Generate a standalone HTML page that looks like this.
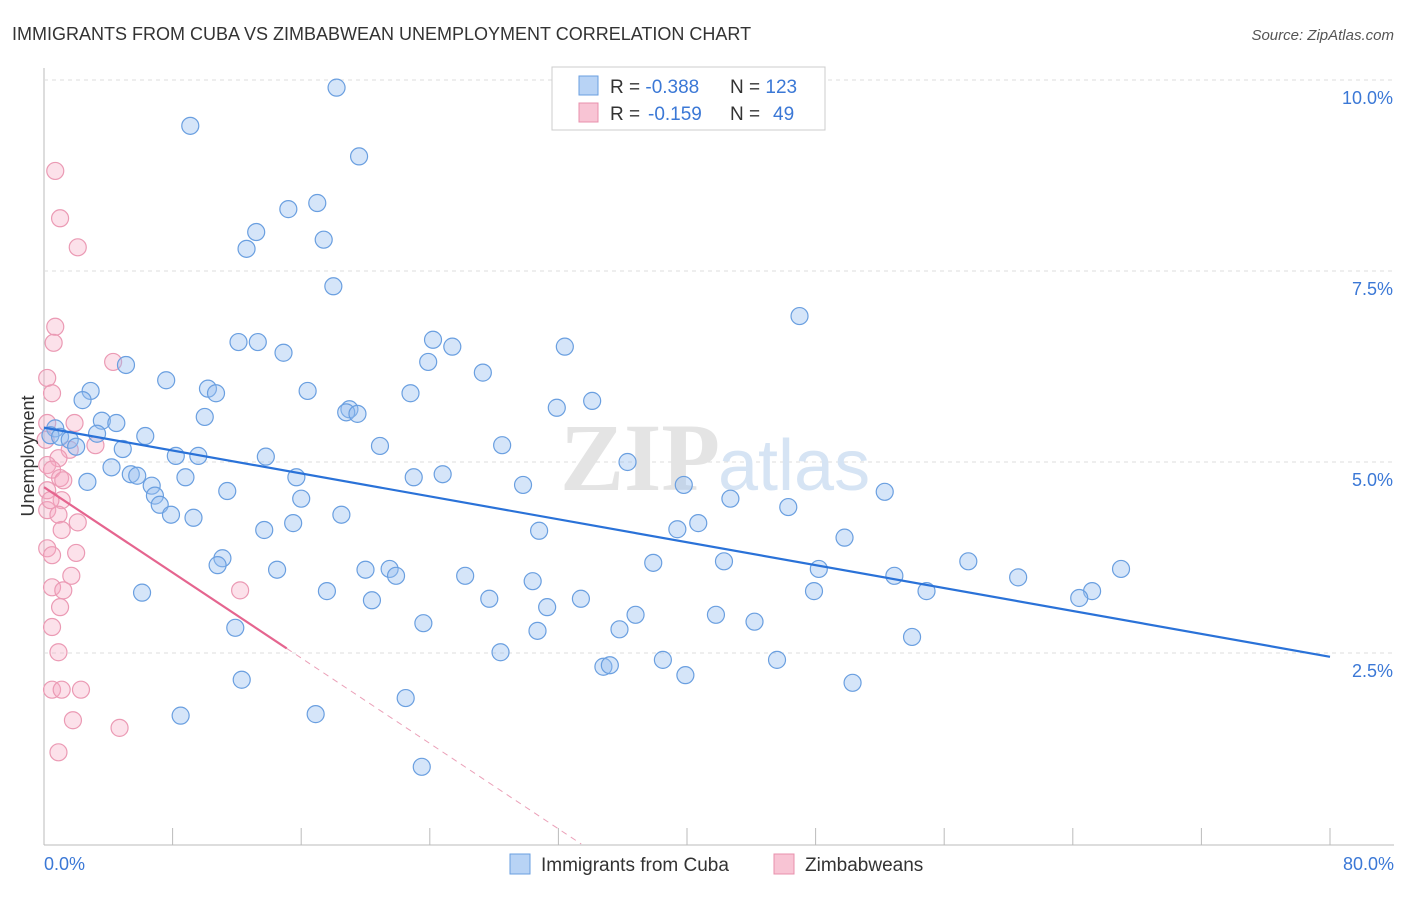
<!DOCTYPE html>
<html><head><meta charset="utf-8"><style>
body{margin:0;background:#fff;font-family:"Liberation Sans",sans-serif}
</style></head><body>
<svg width="1406" height="892" xmlns="http://www.w3.org/2000/svg" style="font-family:'Liberation Sans',sans-serif">
<text x="12" y="40" font-size="18" fill="#333">IMMIGRANTS FROM CUBA VS ZIMBABWEAN UNEMPLOYMENT CORRELATION CHART</text>
<text x="1394" y="40" font-size="15" fill="#555" text-anchor="end" font-style="italic">Source: ZipAtlas.com</text>
<g id="grid"></g>
<text x="720" y="490" font-size="96" fill="#e4e4e4" text-anchor="end" font-family="Liberation Serif" font-weight="bold">ZIP</text>
<text x="718" y="490" font-size="72" fill="#d6e4f4">atlas</text>
<g id="pts"></g>
<g id="lines"></g>
<text x="34" y="456" font-size="18" fill="#333" text-anchor="middle" transform="rotate(-90 34 456)">Unemployment</text>
<text x="44" y="870" font-size="18" fill="#3b78d6">0.0%</text>
<text x="1394" y="870" font-size="18" fill="#3b78d6" text-anchor="end">80.0%</text>
<g>
<rect x="552" y="67" width="273" height="63" fill="#fff" stroke="#ccc"/>
<rect x="579" y="76" width="19" height="19" fill="#b8d3f5" stroke="#6a9fe0"/>
<rect x="579" y="103" width="19" height="19" fill="#f8c4d4" stroke="#e890ac"/>
<text x="610" y="93" font-size="19" fill="#333">R = <tspan fill="#3b78d6">-0.388</tspan><tspan x="730">N = </tspan><tspan fill="#3b78d6">123</tspan></text>
<text x="610" y="120" font-size="19" fill="#333">R = <tspan x="648" fill="#3b78d6">-0.159</tspan><tspan x="730">N = </tspan><tspan x="773" fill="#3b78d6">49</tspan></text>
</g>
<g><rect x="510" y="854" width="20" height="20" fill="#b8d3f5" stroke="#6a9fe0"/><text x="541" y="871" font-size="19" fill="#333">Immigrants from Cuba</text></g>
<g><rect x="774" y="854" width="20" height="20" fill="#f8c4d4" stroke="#e890ac"/><text x="805" y="871" font-size="19" fill="#333">Zimbabweans</text></g>
</svg>
<script>
const yTicks=[2.5,5.0,7.5,10.0];
const xTickVals=[0,8,16,24,32,40,48,56,64,72,80];
const cubaX=[18.2,9.1,19.6,17.0,15.2,13.2,17.4,12.6,18.0,47.0,12.1,13.3,24.2,25.4,32.4,14.9,23.9,5.1,27.3,7.6,2.9,10.2,10.7,16.4,22.8,2.4,34.1,31.9,19.0,18.8,19.5,10.0,3.6,4.5,0.7,0.4,1.0,1.6,3.3,6.3,20.9,28.5,2.0,4.9,8.2,9.6,13.8,36.3,4.2,5.4,5.8,8.8,15.7,23.0,24.8,2.7,6.7,29.8,39.8,11.4,6.9,16.0,42.7,52.3,7.2,46.3,7.9,18.5,9.3,15.5,40.7,39.4,13.7,30.8,49.8,11.1,10.8,37.9,42.3,57.5,67.0,14.5,20.0,21.5,21.9,26.2,48.2,52.9,60.6,30.4,6.1,17.6,47.9,54.9,65.2,64.4,20.4,27.7,33.4,31.3,36.8,41.8,23.6,44.2,11.9,30.7,35.8,54.0,28.4,38.5,45.6,34.8,35.2,39.9,12.3,50.3,22.5,8.5,16.9,23.5];
const cubaY=[9.90,9.40,9.00,8.39,8.31,8.01,7.91,7.79,7.30,6.91,6.57,6.57,6.60,6.51,6.51,6.43,6.31,6.27,6.17,6.07,5.93,5.96,5.90,5.93,5.90,5.81,5.80,5.71,5.69,5.65,5.63,5.59,5.54,5.51,5.44,5.35,5.33,5.29,5.37,5.34,5.21,5.22,5.20,5.17,5.08,5.08,5.07,5.00,4.93,4.84,4.82,4.80,4.80,4.80,4.84,4.74,4.69,4.70,4.70,4.62,4.56,4.52,4.52,4.61,4.44,4.41,4.31,4.31,4.27,4.20,4.20,4.12,4.11,4.10,4.01,3.74,3.65,3.68,3.70,3.70,3.60,3.59,3.59,3.60,3.51,3.51,3.60,3.51,3.49,3.44,3.29,3.31,3.31,3.31,3.31,3.22,3.19,3.21,3.21,3.10,3.00,3.00,2.89,2.91,2.83,2.79,2.81,2.71,2.51,2.41,2.41,2.32,2.34,2.21,2.15,2.11,1.91,1.68,1.70,1.01];
const zimX=[0.7,1.0,2.1,0.7,0.6,4.3,0.2,0.5,0.2,1.9,3.2,1.6,0.9,0.2,0.5,1.0,0.2,1.1,0.2,0.9,2.1,1.1,0.2,0.5,2.0,1.7,0.5,1.2,1.0,12.2,0.5,0.9,0.5,1.1,2.3,1.8,4.7,0.9,1.2,0.4,0.1];
const zimY=[8.81,8.19,7.81,6.77,6.56,6.31,6.10,5.90,5.51,5.51,5.22,5.16,5.05,4.96,4.90,4.79,4.63,4.50,4.37,4.31,4.21,4.11,3.87,3.78,3.81,3.51,3.36,3.32,3.10,3.32,2.84,2.51,2.02,2.02,2.02,1.62,1.52,1.20,4.76,4.50,5.29];
const cubaTrend=[5.45,2.45];
const zimTrend=[4.67,2.56,15.1];
const NS="http://www.w3.org/2000/svg";
const X0=44,X1=1330,Y0=844,Y1=80;
const xs=v=>X0+(v/80)*(X1-X0);
const ys=v=>Y0-(v/10)*(Y0-Y1);
function mk(t,a,p){const e=document.createElementNS(NS,t);for(const k in a)e.setAttribute(k,a[k]);p.appendChild(e);return e;}
const grid=document.getElementById('grid');
mk('line',{x1:44,y1:68,x2:44,y2:845,stroke:'#bbb'},grid);
mk('line',{x1:44,y1:845,x2:1394,y2:845,stroke:'#bbb'},grid);
yTicks.forEach(v=>{
 const l=mk('line',{x1:44,y1:ys(v),x2:1394,y2:ys(v),stroke:'#ddd','stroke-dasharray':'4,4'},grid);
 
 
 const t=mk('text',{x:1393,y:ys(v)+24,'font-size':18,fill:'#3b78d6','text-anchor':'end'},grid);
 t.textContent=v.toFixed(1)+'%';
 
 
});
xTickVals.forEach(v=>{
 const l=mk('line',{x1:xs(v),y1:828,x2:xs(v),y2:845,stroke:'#bbb'},grid);
 
 
});
const pts=document.getElementById('pts');
zimX.forEach((v,i)=>{
 const c=mk('circle',{cx:xs(v),cy:ys(zimY[i]),r:8.5,fill:'rgba(245,170,195,0.35)',stroke:'#eb9ab4','stroke-width':1.2},pts);
 
 
});
cubaX.forEach((v,i)=>{
 const c=mk('circle',{cx:xs(v),cy:ys(cubaY[i]),r:8.5,fill:'rgba(150,190,240,0.4)',stroke:'#6a9fe0','stroke-width':1.2},pts);
 
 
});
const lines=document.getElementById('lines');
const bl=mk('line',{x1:xs(0),y1:ys(cubaTrend[0]),x2:xs(80),y2:ys(cubaTrend[1]),stroke:'#2a72d8','stroke-width':2.2},lines);


const slope=(zimTrend[1]-zimTrend[0])/zimTrend[2];
const xz=-zimTrend[0]/slope;
const pl=mk('line',{x1:xs(0),y1:ys(zimTrend[0]),x2:xs(zimTrend[2]),y2:ys(zimTrend[1]),stroke:'#e5658f','stroke-width':2.2},lines);


const pd=mk('line',{x1:xs(zimTrend[2]),y1:ys(zimTrend[1]),x2:xs(xz),y2:ys(0),stroke:'#eba0b8','stroke-width':1,'stroke-dasharray':'6,5'},lines);


</script>
</body></html>
